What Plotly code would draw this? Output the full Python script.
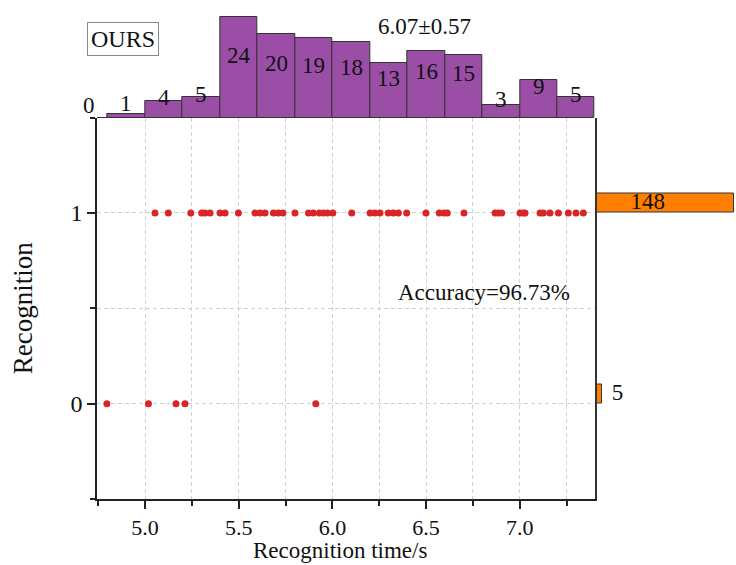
import plotly.graph_objects as go

# ---- data ----
hist_centers = [4.7, 4.9, 5.1, 5.3, 5.5, 5.7, 5.9, 6.1, 6.3, 6.5, 6.7, 6.9, 7.1, 7.3]
hist_counts = [0, 1, 4, 5, 24, 20, 19, 18, 13, 16, 15, 3, 9, 5]

times_recognized = [5.053, 5.124, 5.244, 5.302, 5.320, 5.347, 5.400, 5.427, 5.498,
                    5.587, 5.614, 5.640, 5.685, 5.711, 5.735, 5.800, 5.872, 5.898,
                    5.930, 5.952, 5.973, 6.002, 6.103, 6.201, 6.227, 6.254, 6.298,
                    6.325, 6.352, 6.396, 6.499, 6.570, 6.595, 6.613, 6.702, 6.868,
                    6.885, 6.903, 7.001, 7.019, 7.028, 7.108, 7.126, 7.161, 7.206,
                    7.259, 7.300, 7.339]
times_missed = [4.796, 5.018, 5.165, 5.213, 5.911]

rec_levels = [0, 1]
rec_counts = [5, 148]

x_title = "Recognition time/s"
y_title = "Recognition"
mean_sd_text = "6.07±0.57"
accuracy_text = "Accuracy=96.73%"
method_name = "OURS"

FONT = "Liberation Serif, Times New Roman, serif"
PURPLE = "#9a4ea6"
ORANGE = "#ff8000"
RED = "#d92525"
AXC = "#222222"
GRIDC = "#d0d0d0"
GDASH = "4px,3px"

X_RANGE = [4.745, 7.412]
Y_RANGE = [-0.5, 1.5]
HIST_TOP = 28.1
RIGHT_MAX = 150

fig = go.Figure()

# main scatter
fig.add_trace(go.Scatter(
    x=times_recognized, y=[1] * len(times_recognized), mode="markers",
    marker=dict(color=RED, size=7), xaxis="x", yaxis="y", showlegend=False))
fig.add_trace(go.Scatter(
    x=times_missed, y=[0] * len(times_missed), mode="markers",
    marker=dict(color=RED, size=7), xaxis="x", yaxis="y", showlegend=False))

# top histogram
fig.add_trace(go.Bar(
    x=hist_centers, y=hist_counts, width=0.2,
    marker=dict(color=PURPLE, line=dict(color="#333333", width=1)),
    xaxis="x2", yaxis="y2", showlegend=False))

# right histogram
fig.add_trace(go.Bar(
    x=rec_counts, y=[v + 0.05 for v in rec_levels], width=0.1, orientation="h",
    marker=dict(color=ORANGE, line=dict(color="#333333", width=1)),
    xaxis="x3", yaxis="y3", showlegend=False))
fig.add_trace(go.Scatter(
    x=[c + 17 if c < 20 else c * 0.37 for c in rec_counts],
    y=[v + 0.05 for v in rec_levels],
    text=[str(c) for c in rec_counts], mode="text",
    textfont=dict(family=FONT, size=23, color="#111111"),
    cliponaxis=False, xaxis="x3", yaxis="y3", showlegend=False))

x_dom = [97.3 / 736, 597 / 736]
y_dom = [1 - 499 / 565, 1 - 117.5 / 565]

# histogram count labels (x in domain fraction so labels outside the range still show)
span = X_RANGE[1] - X_RANGE[0]
hist_labels = [
    dict(text=str(c), xref="x2 domain", yref="y2",
         x=(xc - X_RANGE[0]) / span, y=c / 2 + 3,
         xanchor="center", yanchor="middle", showarrow=False,
         font=dict(family=FONT, size=23, color="#111111"))
    for xc, c in zip(hist_centers, hist_counts)
]

fig.update_layout(
    width=736, height=565,
    margin=dict(l=0, r=0, t=0, b=0, autoexpand=False),
    paper_bgcolor="white", plot_bgcolor="rgba(0,0,0,0)",
    font=dict(family=FONT, color="#111111"),
    bargap=0,
    xaxis=dict(
        domain=x_dom, range=X_RANGE, anchor="y", automargin=False,
        tickmode="array", tickvals=[5.0, 5.5, 6.0, 6.5, 7.0],
        ticktext=["5.0", "5.5", "6.0", "6.5", "7.0"],
        ticks="outside", ticklen=8, tickwidth=1.5, tickcolor=AXC,
        ticklabelstandoff=0,
        tickfont=dict(family=FONT, size=22, color="#111111"),
        showline=True, linecolor=AXC, linewidth=2,
        showgrid=True, gridcolor=GRIDC, griddash=GDASH, gridwidth=1,
        minor=dict(tickmode="array", tickvals=[4.75, 5.25, 5.75, 6.25, 6.75, 7.25],
                   ticks="outside", ticklen=5, tickwidth=1.5, tickcolor=AXC,
                   showgrid=True, gridcolor=GRIDC, griddash=GDASH, gridwidth=1),
        zeroline=False,
    ),
    yaxis=dict(
        domain=y_dom, range=Y_RANGE, anchor="x", automargin=False,
        tickmode="array", tickvals=[0, 1], ticktext=["0", "1"],
        ticks="outside", ticklen=8, tickwidth=1.5, tickcolor=AXC,
        tickfont=dict(family=FONT, size=24, color="#111111"),
        showline=True, linecolor=AXC, linewidth=2,
        showgrid=True, gridcolor=GRIDC, griddash=GDASH, gridwidth=1,
        minor=dict(tickmode="array", tickvals=[-0.5, 0.5, 1.5],
                   ticks="outside", ticklen=5, tickwidth=1.5, tickcolor=AXC,
                   showgrid=True, gridcolor=GRIDC, griddash=GDASH, gridwidth=1),
        zeroline=False,
        title=dict(text=y_title, font=dict(family=FONT, size=27, color="#111111"),
                   standoff=30),
    ),
    xaxis2=dict(domain=x_dom, range=X_RANGE, anchor="y2", matches="x",
                visible=False, showgrid=False),
    yaxis2=dict(domain=[1 - 118 / 565, 1], range=[0, HIST_TOP], anchor="x2",
                visible=False, showgrid=False),
    xaxis3=dict(domain=[597 / 736, 1], range=[0, RIGHT_MAX], anchor="y3",
                visible=False, showgrid=False),
    yaxis3=dict(domain=y_dom, range=Y_RANGE, anchor="x3", matches="y",
                showline=True, linecolor="#333333", linewidth=2,
                showticklabels=False, ticks="", showgrid=False, zeroline=False),
    annotations=hist_labels + [
        dict(text=x_title, xref="paper", yref="paper", x=340 / 736, y=0,
             xanchor="center", yanchor="bottom",
             showarrow=False, font=dict(family=FONT, size=23, color="#111111")),
        dict(text=method_name, xref="paper", yref="paper", x=123 / 736, y=1 - 39 / 565,
             xanchor="center", yanchor="middle",
             showarrow=False, font=dict(family=FONT, size=24, color="#111111"),
             bordercolor="#888888", borderwidth=1, borderpad=3, bgcolor="white"),
        dict(text=mean_sd_text, xref="paper", yref="paper", x=424 / 736, y=1 - 26 / 565,
             xanchor="center", yanchor="middle",
             showarrow=False, font=dict(family=FONT, size=23, color="#111111")),
        dict(text=accuracy_text, xref="x", yref="y", x=6.81, y=0.58,
             xanchor="center", yanchor="middle",
             showarrow=False, font=dict(family=FONT, size=23, color="#111111")),
    ],
)

fig.write_html("out.html")
